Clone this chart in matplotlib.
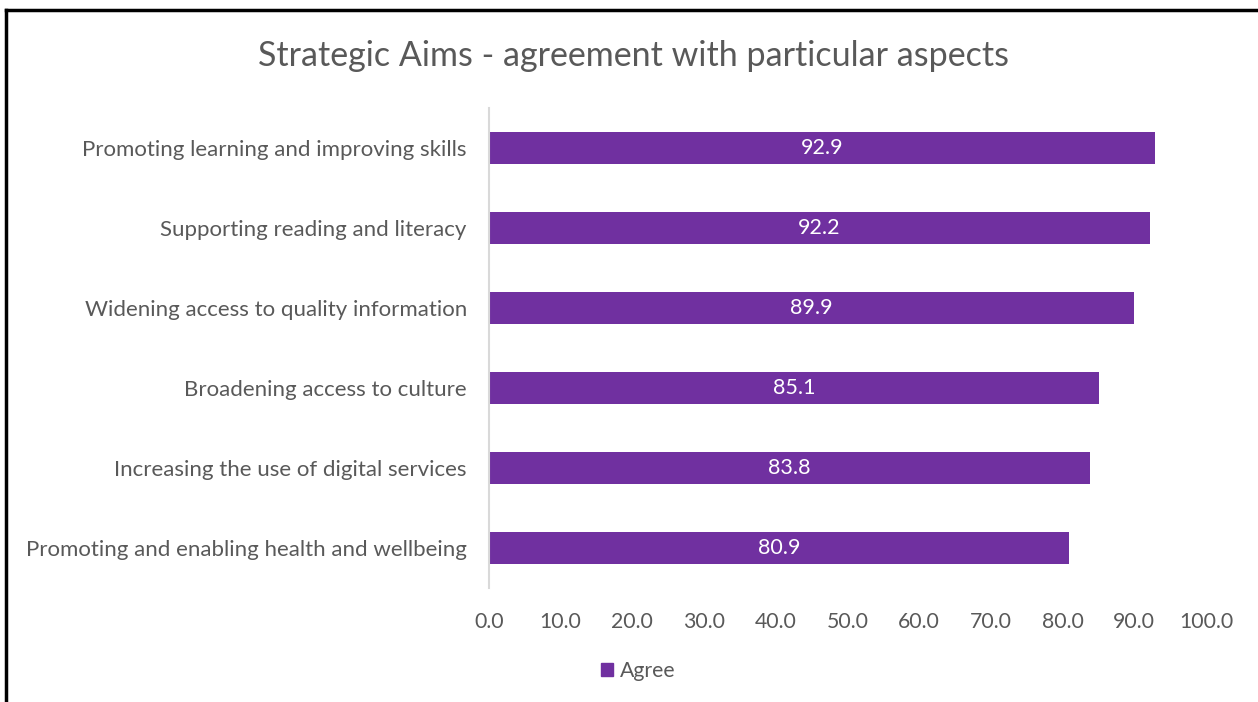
import matplotlib.pyplot as plt
from matplotlib.lines import Line2D
from matplotlib.patches import Patch

plt.rcParams['font.family'] = ['Lato', 'DejaVu Sans']

aims = ['Promoting learning and improving skills',
        'Supporting reading and literacy',
        'Widening access to quality information',
        'Broadening access to culture',
        'Increasing the use of digital services',
        'Promoting and enabling health and wellbeing']
agree = [92.9, 92.2, 89.9, 85.1, 83.8, 80.9]
ticks = [0, 10, 20, 30, 40, 50, 60, 70, 80, 90, 100]

purple = '#7030A0'
grey = '#595959'

fig = plt.figure(figsize=(12.58, 7.02), dpi=100)
ax = fig.add_axes([489 / 1258, 1 - 588 / 702, (1206 - 489) / 1258, (588 - 108) / 702])

pos = list(range(len(aims)))[::-1]
ax.barh(pos, agree, height=0.4, color=purple, label='Agree')
for p, v in zip(pos, agree):
    ax.text(v / 2, p, f'{v:.1f}', color='white', ha='center', va='center', fontsize=15.5)

ax.set_xlim(0, 100)
ax.set_ylim(-0.5, len(aims) - 0.5)
ax.set_yticks(pos)
ax.set_yticklabels(aims, fontsize=16, color=grey)
ax.set_xticks(ticks)
ax.set_xticklabels([f'{t:.1f}' for t in ticks], fontsize=15.3, color=grey)
ax.tick_params(axis='both', length=0)
ax.tick_params(axis='y', pad=16)
ax.tick_params(axis='x', pad=17)
for s in ['top', 'right', 'bottom']:
    ax.spines[s].set_visible(False)
ax.spines['left'].set_color('#D9D9D9')
ax.spines['left'].set_linewidth(1.5)

fig.text(634 / 1258, 1 - 56 / 702, 'Strategic Aims - agreement with particular aspects',
         ha='center', va='center', fontsize=24.5, color=grey)

fig.legend(handles=[Patch(color=purple, label='Agree')], loc='center',
           bbox_to_anchor=(638 / 1258, 1 - 671 / 702), frameon=False,
           fontsize=15.3, labelcolor=grey, handlelength=0.6, handleheight=0.6,
           handletextpad=0.3)

# outer frame, left and top edges only
fig.add_artist(Line2D([6 / 1258, 6 / 1258], [0, 1 - 10 / 702], color='black', lw=2.5,
                      transform=fig.transFigure))
fig.add_artist(Line2D([6 / 1258, 1], [1 - 10 / 702, 1 - 10 / 702], color='black', lw=2.5,
                      transform=fig.transFigure))

fig.savefig('out.png', dpi=100)
